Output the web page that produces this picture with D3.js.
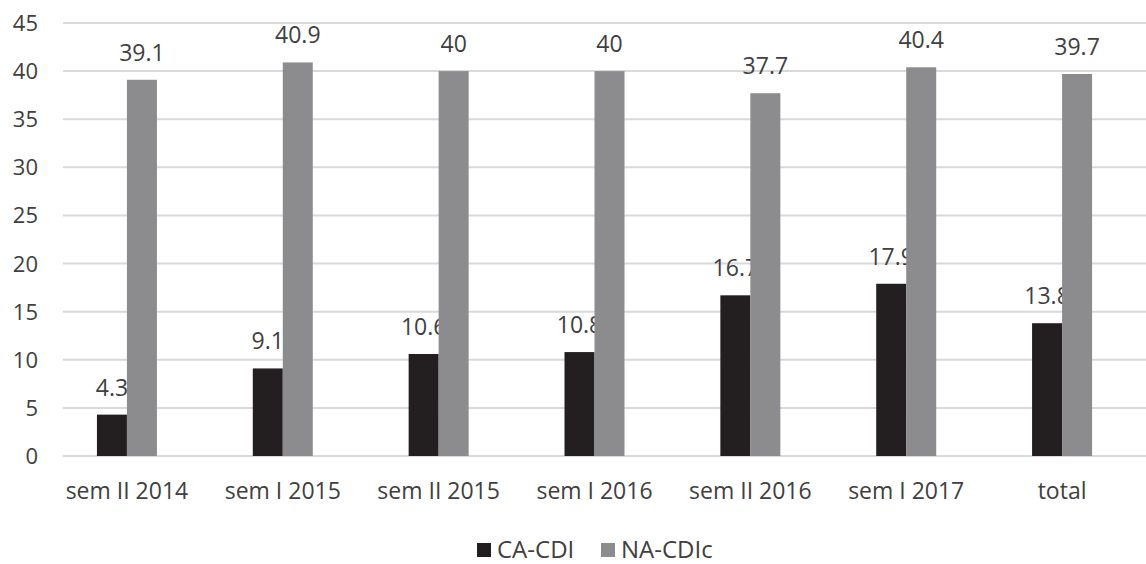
<!DOCTYPE html>
<html>
<head>
<meta charset="utf-8">
<script src="https://cdn.jsdelivr.net/npm/d3@7"></script>
<style>
  body { margin: 0; background: #fff; }
  text { font-family: "Open Sans", sans-serif; fill: #404040; }
</style>
</head>
<body>
<div id="chart"></div>
<script>
var categories = ["sem II 2014", "sem I 2015", "sem II 2015", "sem I 2016", "sem II 2016", "sem I 2017", "total"];
var caCdi = [4.3, 9.1, 10.6, 10.8, 16.7, 17.9, 13.8];
var naCdic = [39.1, 40.9, 40, 40, 37.7, 40.4, 39.7];
var seriesNames = ["CA-CDI", "NA-CDIc"];
var seriesColors = ["#231f20", "#8c8c8e"];
var yTicks = [0, 5, 10, 15, 20, 25, 30, 35, 40, 45];

var width = 1146, height = 564;

var svg = d3.select("#chart").append("svg")
    .attr("width", width)
    .attr("height", height);

var x = d3.scaleBand().domain(categories).range([49, 1140]);
var y = d3.scaleLinear().domain([0, 45]).range([456, 23]);
var barW = 30;

// gridlines
svg.append("g").selectAll("line").data(yTicks).enter()
  .append("line")
    .attr("x1", 63).attr("x2", width)
    .attr("y1", function(d) { return y(d); })
    .attr("y2", function(d) { return y(d); })
    .style("stroke", "#d9d9d9")
    .style("stroke-width", 2);

// y labels
svg.append("g").selectAll("text").data(yTicks).enter()
  .append("text")
    .attr("x", 38)
    .attr("y", function(d) { return y(d) + 8; })
    .attr("text-anchor", "end")
    .style("font-size", "22px")
    .text(function(d) { return d; });

var series = [caCdi, naCdic];
series.forEach(function(vals, si) {
  var g = svg.append("g");
  var xPos = function(d, i) {
    return x(categories[i]) + x.bandwidth() / 2 + (si === 0 ? -barW : 0);
  };
  g.selectAll("rect").data(vals).enter()
    .append("rect")
      .attr("x", xPos)
      .attr("width", barW)
      .attr("y", function(d) { return y(d); })
      .attr("height", function(d) { return y(0) - y(d); })
      .style("fill", seriesColors[si]);
  g.selectAll("text").data(vals).enter()
    .append("text")
      .attr("x", function(d, i) { return xPos(d, i) + barW / 2; })
      .attr("y", function(d) { return y(d) - 19; })
      .attr("text-anchor", "middle")
      .style("font-size", "23px")
      .text(function(d) { return d; });
});

// x labels
svg.append("g").selectAll("text").data(categories).enter()
  .append("text")
    .attr("x", function(d) { return x(d) + x.bandwidth() / 2; })
    .attr("y", 499)
    .attr("text-anchor", "middle")
    .style("font-size", "23px")
    .text(function(d) { return d; });

// legend
var legend = svg.append("g");
var legendX = [477, 601];
seriesNames.forEach(function(name, i) {
  legend.append("rect")
    .attr("x", legendX[i]).attr("y", 543)
    .attr("width", 14).attr("height", 14)
    .style("fill", seriesColors[i]);
  legend.append("text")
    .attr("x", legendX[i] + 20).attr("y", 558)
    .style("font-size", "24px")
    .text(name);
});
</script>
</body>
</html>
